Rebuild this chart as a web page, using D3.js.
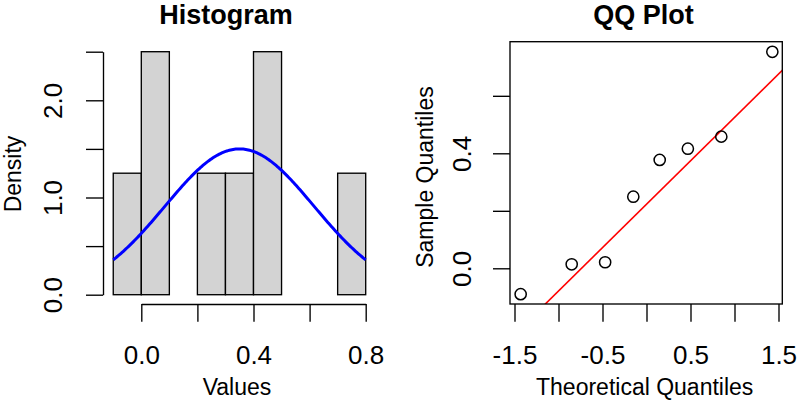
<!DOCTYPE html>
<html>
<head>
<meta charset="utf-8">
<script src="https://cdn.jsdelivr.net/npm/d3@7"></script>
<style>
  html, body { margin: 0; padding: 0; background: #ffffff; }
  svg text { font-family: "Liberation Sans", Arial, Helvetica, sans-serif; fill: #000000; }
</style>
</head>
<body>
<svg id="chart" width="797" height="404"></svg>
<script>
// histogram bins (edges) and densities
let binStart = [-0.1, 0.0, 0.1, 0.2, 0.3, 0.4, 0.5, 0.6, 0.7];
let binEnd = [0.0, 0.1, 0.2, 0.3, 0.4, 0.5, 0.6, 0.7, 0.8];
let binDensity = [1.25, 2.5, 0, 1.25, 1.25, 2.5, 0, 0, 1.25];
let histXTicks = [0.0, 0.2, 0.4, 0.6, 0.8];
let histXLabels = ["0.0", "", "0.4", "", "0.8"];
let histYTicks = [0.0, 0.5, 1.0, 1.5, 2.0, 2.5];
let histYLabels = ["0.0", "", "1.0", "", "2.0", ""];
// fitted normal curve
let curveMean = 0.35;
let curveSd = 0.266;

// qq plot points
let theoQuantiles = [-1.43, -0.85, -0.47, -0.15, 0.15, 0.47, 0.85, 1.43];
let sampleQuantiles = [-0.090, 0.014, 0.021, 0.249, 0.377, 0.416, 0.458, 0.753];
let qqXTicks = [-1.5, -1.0, -0.5, 0.0, 0.5, 1.0, 1.5];
let qqXLabels = ["-1.5", "", "-0.5", "", "0.5", "", "1.5"];
let qqYTicks = [0.0, 0.2, 0.4, 0.6];
let qqYLabels = ["0.0", "", "0.4", ""];

let svg = d3.select("#chart");
let tickFont = 26;
let labFont = 23;
let titleFont = 27;
let lw = 1.35;

// ---------- Histogram ----------
let hx = d3.scaleLinear().domain([0, 0.8]).range([141.3, 365.7]);
let hy = d3.scaleLinear().domain([0, 2.5]).range([294.7, 51.7]);
let g_hist = svg.append("g").classed("g_hist", true);

g_hist.selectAll("rect.bar")
    .data(binDensity)
    .enter().append("rect")
    .classed("bar", true)
    .attr("x", (d, i) => hx(binStart[i]))
    .attr("y", d => hy(d))
    .attr("width", (d, i) => hx(binEnd[i]) - hx(binStart[i]))
    .attr("height", d => hy(0) - hy(d))
    .attr("fill", "#d3d3d3")
    .attr("stroke", "#000000")
    .attr("stroke-width", lw);

let curveX = d3.range(0, 201).map(k => binStart[0] + k * (binEnd[binEnd.length - 1] - binStart[0]) / 200);
let dnorm = x => Math.exp(-0.5 * Math.pow((x - curveMean) / curveSd, 2)) / (curveSd * Math.sqrt(2 * Math.PI));
g_hist.append("path")
    .datum(curveX)
    .attr("d", d3.line().x(d => hx(d)).y(d => hy(dnorm(d))))
    .attr("fill", "none")
    .attr("stroke", "#0000ff")
    .attr("stroke-width", 3);

// y axis
let g_hy = g_hist.append("g").attr("transform", "translate(103, 0)");
g_hy.call(d3.axisLeft(hy).tickValues(histYTicks).tickSize(17).tickSizeOuter(0)
    .tickFormat((d, i) => histYLabels[i]));
g_hy.select(".domain").attr("stroke-width", lw);
g_hy.selectAll(".tick line").attr("stroke-width", lw);
g_hy.selectAll(".tick text")
    .attr("font-size", tickFont)
    .attr("transform", "rotate(-90)")
    .attr("x", 0)
    .attr("y", -41)
    .attr("dy", 0)
    .attr("text-anchor", "middle");

// x axis
let g_hx = g_hist.append("g").attr("transform", "translate(0, 304)");
g_hx.call(d3.axisBottom(hx).tickValues(histXTicks).tickSize(17.7).tickSizeOuter(0)
    .tickFormat((d, i) => histXLabels[i]));
g_hx.select(".domain").attr("stroke-width", lw);
g_hx.selectAll(".tick line").attr("stroke-width", lw);
g_hx.selectAll(".tick text")
    .attr("font-size", tickFont)
    .attr("y", 60.3)
    .attr("dy", 0);

g_hist.append("text")
    .text("Histogram")
    .attr("x", 226)
    .attr("y", 24)
    .attr("text-anchor", "middle")
    .style("font-size", titleFont)
    .style("font-weight", "bold");
g_hist.append("text")
    .text("Values")
    .attr("x", 237)
    .attr("y", 395)
    .attr("text-anchor", "middle")
    .style("font-size", labFont);
g_hist.append("text")
    .text("Density")
    .attr("transform", "translate(21, 174) rotate(-90)")
    .attr("text-anchor", "middle")
    .style("font-size", labFont);

// ---------- QQ plot ----------
let qx = d3.scaleLinear().domain([-1.5, 1.5]).range([514.5, 778.5]);
let qy = d3.scaleLinear().domain([0, 0.6]).range([268.3, 95.8]);
let boxL = 510, boxR = 782.3, boxT = 41.7, boxB = 304;
let g_qq = svg.append("g").classed("g_qq", true);

g_qq.append("clipPath").attr("id", "qqclip")
    .append("rect")
    .attr("x", boxL).attr("y", boxT)
    .attr("width", boxR - boxL).attr("height", boxB - boxT);

// reference line through the quartiles (like qqline)
let sorted = sampleQuantiles.slice().sort(d3.ascending);
let q1 = d3.quantile(sorted, 0.25), q3 = d3.quantile(sorted, 0.75);
let z1 = -0.6745, z3 = 0.6745;
let slope = (q3 - q1) / (z3 - z1);
let intercept = q1 - slope * z1;
let lineEnds = [-2, 2];
g_qq.append("path")
    .datum(lineEnds)
    .attr("clip-path", "url(#qqclip)")
    .attr("d", d3.line().x(d => qx(d)).y(d => qy(intercept + slope * d)))
    .attr("stroke", "#ff0000")
    .attr("stroke-width", 1.6)
    .attr("fill", "none");

g_qq.selectAll("circle.pt")
    .data(sampleQuantiles)
    .enter().append("circle")
    .classed("pt", true)
    .attr("cx", (d, i) => qx(theoQuantiles[i]))
    .attr("cy", d => qy(d))
    .attr("r", 5.6)
    .attr("fill", "none")
    .attr("stroke", "#000000")
    .attr("stroke-width", 1.5);

g_qq.append("rect")
    .attr("x", boxL).attr("y", boxT)
    .attr("width", boxR - boxL).attr("height", boxB - boxT)
    .attr("fill", "none")
    .attr("stroke", "#000000")
    .attr("stroke-width", lw);

let g_qy = g_qq.append("g").attr("transform", "translate(" + boxL + ", 0)");
g_qy.call(d3.axisLeft(qy).tickValues(qqYTicks).tickSize(17).tickSizeOuter(0)
    .tickFormat((d, i) => qqYLabels[i]));
g_qy.select(".domain").remove();
g_qy.selectAll(".tick line").attr("stroke-width", lw);
g_qy.selectAll(".tick text")
    .attr("font-size", tickFont)
    .attr("transform", "rotate(-90)")
    .attr("x", 0)
    .attr("y", -39.5)
    .attr("dy", 0)
    .attr("text-anchor", "middle");

let g_qx = g_qq.append("g").attr("transform", "translate(0, " + boxB + ")");
g_qx.call(d3.axisBottom(qx).tickValues(qqXTicks).tickSize(17.7).tickSizeOuter(0)
    .tickFormat((d, i) => qqXLabels[i]));
g_qx.select(".domain").remove();
g_qx.selectAll(".tick line").attr("stroke-width", lw);
g_qx.selectAll(".tick text")
    .attr("font-size", tickFont)
    .attr("y", 60.3)
    .attr("dy", 0);

g_qq.append("text")
    .text("QQ Plot")
    .attr("x", 643.5)
    .attr("y", 24)
    .attr("text-anchor", "middle")
    .style("font-size", titleFont)
    .style("font-weight", "bold");
g_qq.append("text")
    .text("Theoretical Quantiles")
    .attr("x", 644.7)
    .attr("y", 395)
    .attr("text-anchor", "middle")
    .style("font-size", labFont);
g_qq.append("text")
    .text("Sample Quantiles")
    .attr("transform", "translate(433, 177) rotate(-90)")
    .attr("text-anchor", "middle")
    .style("font-size", labFont);
</script>
</body>
</html>
